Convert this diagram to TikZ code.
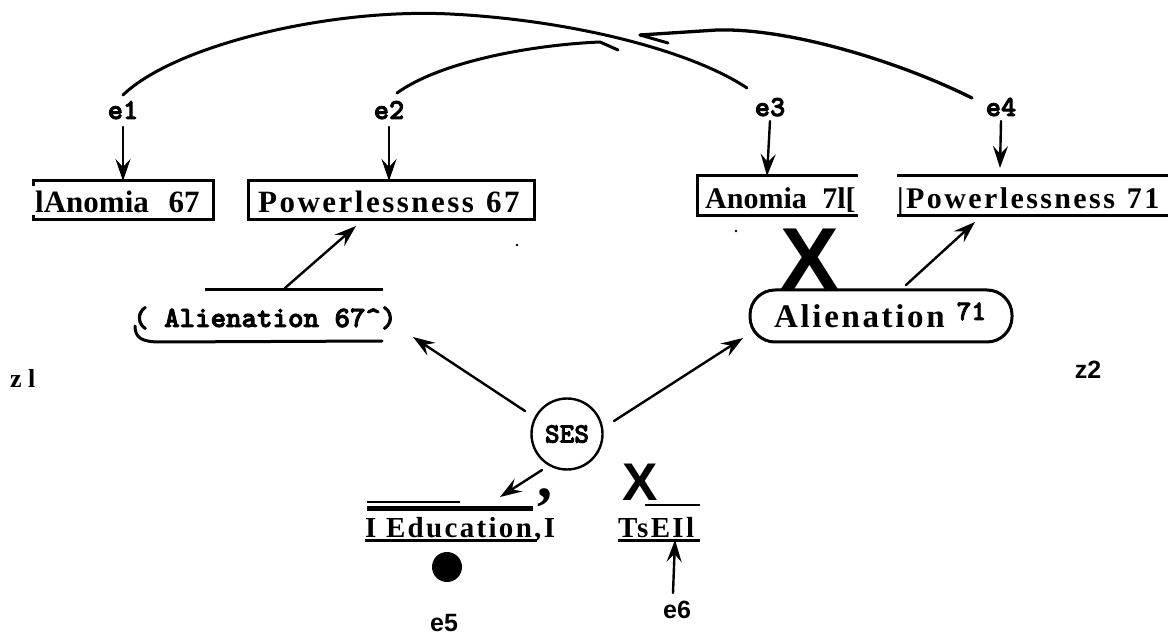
\documentclass[tikz,border=0pt]{standalone}
\usepackage{fontspec}
\setmainfont{Liberation Serif}
\newfontfamily\lblsans{Liberation Sans}
\newfontfamily\wideserif[LetterSpace=8]{Liberation Serif}
\newfontfamily\lblmono{lmmonolt10-bold}[Extension=.otf, FakeBold=3]
\usetikzlibrary{arrows.meta,calc}
\tikzset{
  ink/.style={line width=3pt, line cap=round, line join=round},
  arr/.style={line width=2.4pt, line cap=round, -{Stealth[length=22pt,width=15pt,inset=8pt]}},
  rule/.style={line width=3pt},
  elabel/.style={font=\lblmono\fontsize{29}{29}\selectfont, inner sep=0pt, anchor=base},
  boxlabel/.style={font=\wideserif\bfseries\fontsize{31}{31}\selectfont, inner sep=0pt, anchor=base west},
  boxlabelb/.style={font=\wideserif\bfseries\fontsize{30}{30}\selectfont, inner sep=0pt, anchor=base west},
  plainlabel/.style={font=\bfseries\fontsize{31}{31}\selectfont, inner sep=0pt, anchor=base west},
  sanslabel/.style={font=\lblsans\bfseries\fontsize{25}{25}\selectfont, inner sep=0pt, anchor=base},
}
\begin{document}
\begin{tikzpicture}[x=1pt,y=-1pt]
\fill[white] (0,0) rectangle (1168,636);
\useasboundingbox (0,0) rectangle (1168,636);

% error terms of the four indicators
\node[elabel] (e1) at (123,119) {e1};
\node[elabel] (e2) at (389,119) {e2};
\node[elabel] (e3) at (770,116) {e3};
\node[elabel] (e4) at (1001,116) {e4};

% correlated errors across the top
\coordinate (e1top) at (123,95);
\coordinate (e3top) at (747,88);
\coordinate (e2top) at (397,93);
\coordinate (e2end) at (618,50);
\coordinate (e4top) at (972,98);
\coordinate (e4tip) at (640,35);
\draw[ink] (e1top) .. controls (175,45) and (330,8) .. (450,14)
           .. controls (570,20) and (690,50) .. (e3top);
\draw[ink] (e2top) .. controls (440,62) and (530,45) .. (600,42) -- (e2end);
\draw[ink, line width=3.3pt] (e4top) .. controls (900,62) and (790,28) .. (717,30) -- (e4tip);
\draw[ink] (e4tip) -- (668,43);

% indicator boxes
\draw[rule] (33,186) -- (33,181) -- (213,181) -- (213,220) -- (33,220) -- (33,215);
\node[plainlabel] (an67) at (35,213) {lAnomia \hspace{12pt}67};
\draw[rule] (248,181) rectangle (534,220);
\node[boxlabel] (pw67) at (258,213) {Powerlessness \hspace{2pt}67};
\draw[rule] (858,176) -- (697,176) -- (697,216) -- (858,216);
\node[plainlabel, font=\bfseries\fontsize{30}{30}\selectfont] (an71) at (705,209) {Anomia \hspace{8pt}7l[};
\draw[rule] (897,176) -- (1168,176);
\draw[rule] (897,216) -- (1168,216);
\node[boxlabelb] (pw71) at (897,209) {|Powerlessness \hspace{2pt}71};

% error arrows into the boxes
\coordinate (an67t) at (123,181);
\coordinate (pw67t) at (389,181);
\coordinate (an71t) at (767,176);
\coordinate (pw71t) at (1000,168);
\draw[arr] ($(e1.base)+(0,8)$) -- (an67t);
\draw[arr] ($(e2.base)+(0,8)$) -- (pw67t);
\draw[arr] ($(e3.base)+(0,5)$) -- (an71t);
\draw[arr] ($(e4.base)+(0,5)$) -- (pw71t);

% latent variable Alienation 67
\node[font=\lblmono\fontsize{29.5}{29.5}\selectfont, anchor=base west, inner sep=0pt]
  (al67) at (133,327) {( Alienation 67{\char"5E})};
\draw[rule] (205,290) -- (383,290);
\draw[rule, line cap=round] (135,326) .. controls (135,338) and (142,342) .. (160,342) -- (382,341);

% latent variable Alienation 71
\node[draw, rule, rounded corners=25pt, minimum width=262pt, minimum height=52pt, inner sep=0pt]
  (al71) at (881,316) {};
\node[font=\wideserif\bfseries\fontsize{33}{33}\selectfont, anchor=base west, inner sep=0pt]
  (al71txt) at (774,328) {Alienation\hspace{12pt}\raisebox{8pt}{\lblmono\fontsize{28}{28}\selectfont 71}};

% loadings on the indicators
\coordinate (al67up) at (285,288);
\coordinate (pw67b) at (356,226);
\coordinate (al71up) at (906,285);
\coordinate (pw71b) at (975,222);
\draw[arr] (al67up) -- (pw67b);
\draw[arr] (al71up) -- (pw71b);

% big cross between Anomia 71 and Alienation 71
\node[font=\lblsans\bfseries\fontsize{88}{88}\selectfont, anchor=base, inner sep=0pt] (bigx) at (810,290) {X};

% disturbances
\node[font=\bfseries\fontsize{26}{26}\selectfont, anchor=base west, inner sep=0pt] (z1) at (10,388) {z l};
\node[sanslabel] (z2) at (1088,378) {z2};

% SES
\node[circle, draw, line width=2.4pt, minimum size=71pt, inner sep=0pt,
      font=\lblmono\fontsize{28}{28}\selectfont] (ses) at (567,434) {SES};
\coordinate (al67in) at (413,337);
\coordinate (al71in) at (743,338);
\coordinate (eduin) at (500,497);
\draw[arr] ($(ses.center)+(-42,-23)$) -- (al67in);
\draw[arr] ($(ses.center)+(47,-13)$) -- (al71in);
\draw[arr] ($(ses.center)+(-25,36)$) -- (eduin);
\node[font=\bfseries\fontsize{60}{60}\selectfont, anchor=base, inner sep=0pt] (comma) at (545,497) {,};

% Education indicator
\draw[line width=1.5pt] (367,502) -- (460,502);
\draw[line width=5pt] (367,508) -- (533,508);
\node[font=\wideserif\bfseries\fontsize{29}{29}\selectfont, anchor=base west, inner sep=0pt]
  (edu) at (365,537) {I Education,I};
\draw[line width=3pt] (365,540) -- (537,540);
\node[circle, fill, minimum size=30pt, inner sep=0pt] (dot) at (447,567) {};
\node[sanslabel] (e5) at (444,631) {e5};

% SEI indicator
\node[font=\lblsans\bfseries\fontsize{53}{53}\selectfont, anchor=base, inner sep=0pt] (smallx) at (640,500) {X};
\draw[line width=2.2pt] (645,505) -- (700,505);
\node[font=\wideserif\bfseries\fontsize{29}{29}\selectfont, anchor=base west, inner sep=0pt]
  (sei) at (618,537) {TsEIl};
\draw[line width=3pt] (618,540) -- (700,540);
\node[sanslabel] (e6) at (677,618) {e6};
\coordinate (seib) at (675,540);
\draw[arr] ($(e6.base)+(-4,-25)$) -- (seib);

% specks
\fill (517,245) circle (1.3);
\fill (736,231) circle (1.3);
\end{tikzpicture}
\end{document}
